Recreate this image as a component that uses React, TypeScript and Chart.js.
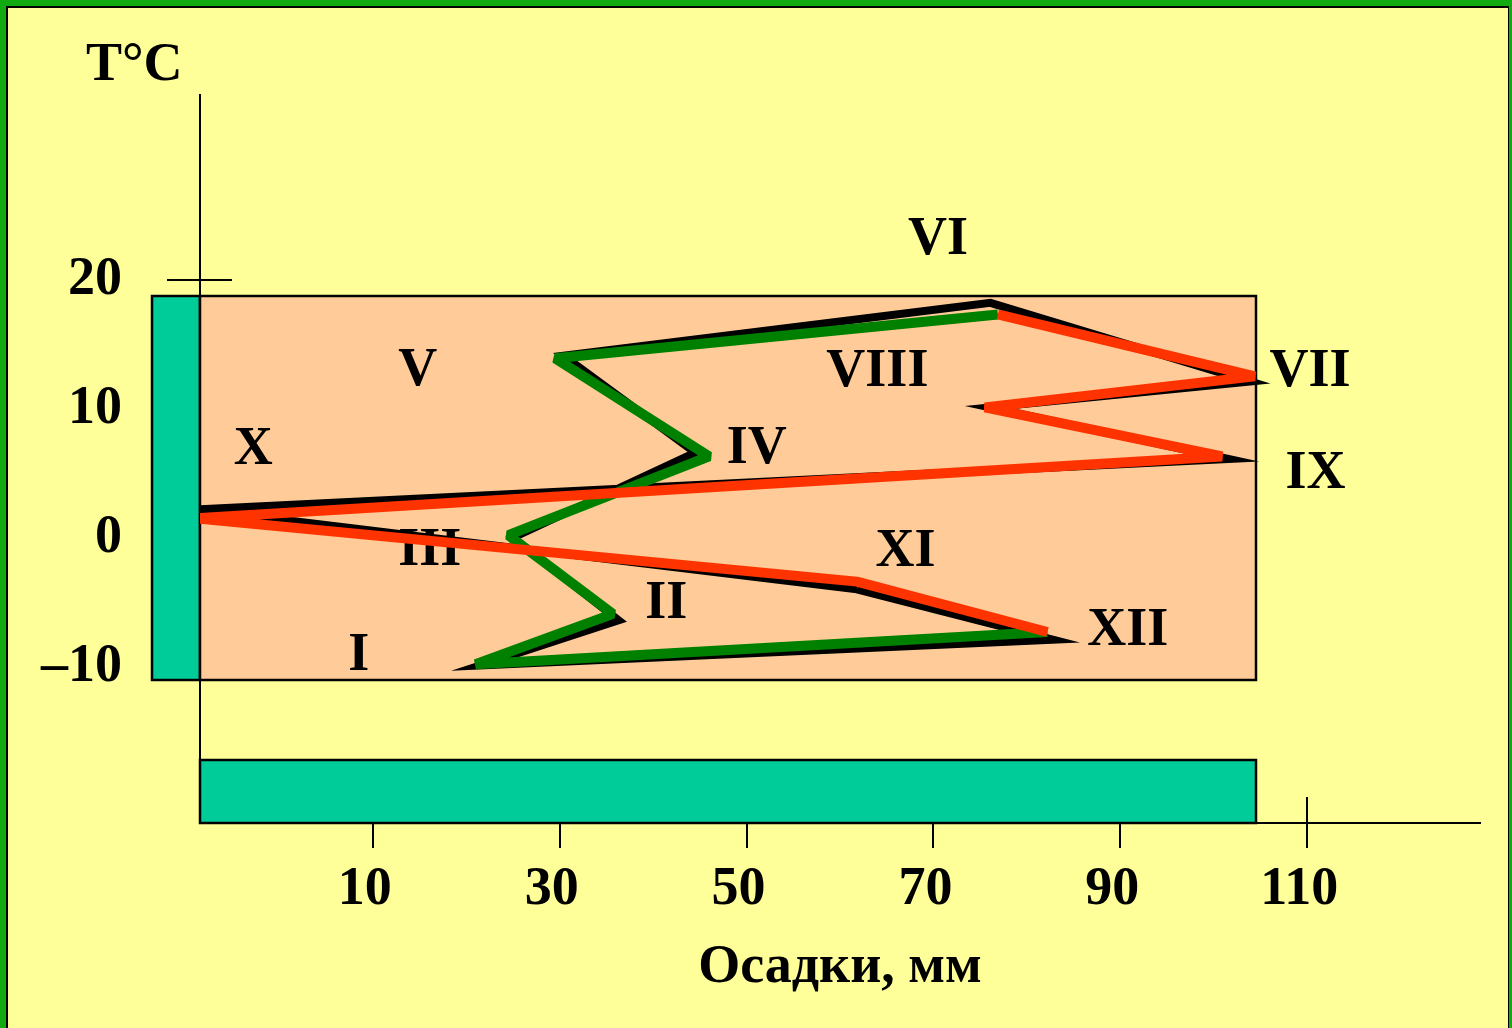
import { useEffect, useRef } from 'react';
import { Chart, registerables } from 'chart.js';

Chart.register(...registerables);

// Months (Roman numerals)
const MONTHS = ['I', 'II', 'III', 'IV', 'V', 'VI', 'VII', 'VIII', 'IX', 'X', 'XI', 'XII'];
// Coloured loop (green / red): precipitation, mm and temperature, °C
const PRECIP_A = [21.0, 35.7, 24.5, 46.0, 29.5, 76.9, 104.4, 75.5, 100.9, -9.0, 61.8, 82.2];
const TEMP_A = [-9.8, -5.9, 0.2, 6.3, 13.9, 17.3, 12.5, 10.1, 6.3, 1.5, -3.4, -7.3];
// Black loop
const PRECIP_B = [21.5, 36.3, 25.0, 44.5, 30.4, 76.1, 103.9, 76.1, 101.6, -8.8, 61.8, 82.8];
const TEMP_B = [-9.9, -6.4, 0.0, 6.6, 14.1, 18.2, 12.1, 10.1, 6.1, 2.2, -4.0, -7.9];
// Month label anchors (data units)
const LABEL_X = [8.5, 41.4, 16.1, 51.1, 14.8, 70.5, 110.3, 64.0, 110.9, -2.8, 67.0, 90.8];
const LABEL_Y = [-9.2, -5.1, -1.0, 6.9, 12.9, 23.1, 12.8, 12.8, 4.9, 6.8, -1.1, -7.2];

// Axes
const X_TICKS = [10, 30, 50, 70, 90, 110];
const Y_TICKS = [-10, 0, 10, 20];
const X_RANGE = [-8.5, 128.5];
const Y_RANGE = [-22.1, 34.3];
const X_TITLE = 'Осадки, мм';
const Y_TITLE = 'T°C';
// Zones [x0, x1, y0, y1] in data units
const ZONE = [-8.5, 104.5, -11.0, 18.7];
const TEMP_BAR = [-13.6, -8.5, -11.0, 18.7];
const PRECIP_BAR = [-8.5, 104.5, -22.1, -17.2];

const FONT = '"Liberation Serif", "Times New Roman", serif';
const GREEN = '#008000';
const RED = '#FF3300';
const TEAL = '#00CC99';
const SALMON = '#FFCC99';
const YELLOW = '#FFFF99';
const BORDER_GREEN = '#11AA11';

const decor = {
  id: 'decor',
  beforeDraw(chart: any) {
    const { ctx, width, height } = chart;
    ctx.save();
    ctx.fillStyle = YELLOW;
    ctx.fillRect(0, 0, width, height);
    ctx.fillStyle = BORDER_GREEN;
    ctx.fillRect(0, 0, width, 6);
    ctx.fillRect(0, 0, 6, height);
    ctx.fillRect(width - 3, 0, 3, height);
    ctx.fillStyle = '#000';
    ctx.fillRect(6, 6, width - 9, 2);
    ctx.fillRect(6, 6, 2, height - 6);
    ctx.fillRect(width - 4, 6, 1, height - 6);
    // y-axis title
    ctx.font = `bold 54px ${FONT}`;
    ctx.textAlign = 'left';
    ctx.textBaseline = 'middle';
    ctx.fillText(Y_TITLE, 86, 66);
    ctx.restore();
  },
  beforeDatasetsDraw(chart: any) {
    const { ctx } = chart;
    const x = chart.scales.x;
    const y = chart.scales.y;
    ctx.save();
    ctx.strokeStyle = '#000';
    ctx.lineWidth = 2;
    // upper / right halves of the cross ticks
    X_TICKS.forEach((v) => {
      const px = Math.round(x.getPixelForValue(v));
      ctx.beginPath();
      ctx.moveTo(px, y.bottom - 26);
      ctx.lineTo(px, y.bottom);
      ctx.stroke();
    });
    Y_TICKS.forEach((v) => {
      const py = Math.round(y.getPixelForValue(v));
      ctx.beginPath();
      ctx.moveTo(x.left, py);
      ctx.lineTo(x.left + 32, py);
      ctx.stroke();
    });
    const rect = (r: number[], fill: string) => {
      const x0 = Math.round(x.getPixelForValue(r[0]));
      const x1 = Math.round(x.getPixelForValue(r[1]));
      const y0 = Math.round(y.getPixelForValue(r[3]));
      const y1 = Math.round(y.getPixelForValue(r[2]));
      ctx.fillStyle = fill;
      ctx.fillRect(x0, y0, x1 - x0, y1 - y0);
      ctx.strokeRect(x0, y0, x1 - x0, y1 - y0);
    };
    ctx.lineWidth = 2.5;
    rect(PRECIP_BAR, TEAL);
    rect(TEMP_BAR, TEAL);
    rect(ZONE, SALMON);
    ctx.fillStyle = '#000';
    ctx.font = `bold 54px ${FONT}`;
    ctx.textAlign = 'center';
    ctx.textBaseline = 'middle';
    MONTHS.forEach((m, i) => {
      ctx.fillText(m, x.getPixelForValue(LABEL_X[i]), y.getPixelForValue(LABEL_Y[i]));
    });
    ctx.restore();
  },
};

export default function App() {
  const ref = useRef<HTMLCanvasElement | null>(null);

  useEffect(() => {
    if (!ref.current) return;
    const orderA = [11, 0, 1, 2, 3, 4, 5, 6, 7, 8, 9, 10, 11];
    const orderB = [10, 11, 0, 1, 2, 3, 4, 5, 6, 7, 8, 9, 10];
    const tickFont = { family: FONT, size: 54, weight: 'bold' as const };
    const chart = new Chart(ref.current, {
      type: 'line',
      data: {
        datasets: [
          {
            label: 'A',
            data: orderA.map((i) => ({ x: PRECIP_A[i], y: TEMP_A[i] })),
            borderColor: GREEN,
            borderWidth: 10,
            borderJoinStyle: 'bevel',
            borderCapStyle: 'butt',
            segment: {
              borderColor: (c: any) => (c.p0DataIndex < 6 ? GREEN : RED),
            },
            pointRadius: 0,
            tension: 0,
            fill: false,
            clip: 0,
          } as any,
          {
            label: 'B',
            data: orderB.map((i) => ({ x: PRECIP_B[i], y: TEMP_B[i] })),
            borderColor: '#000',
            borderWidth: 8,
            borderJoinStyle: 'miter',
            borderCapStyle: 'butt',
            pointRadius: 0,
            tension: 0,
            fill: false,
            clip: 0,
          } as any,
        ],
      },
      options: {
        responsive: false,
        devicePixelRatio: 1,
        animation: false,
        events: [],
        layout: { padding: { left: 0, right: 32, top: 95, bottom: 0 } },
        plugins: {
          legend: { display: false },
          tooltip: { enabled: false },
          title: { display: false },
        },
        scales: {
          x: {
            type: 'linear',
            position: 'bottom',
            min: X_RANGE[0],
            max: X_RANGE[1],
            afterBuildTicks: (s: any) => {
              s.ticks = X_TICKS.map((v) => ({ value: v }));
            },
            afterFit: (s: any) => {
              s.height = 205;
            },
            ticks: {
              color: '#000',
              font: tickFont,
              padding: 10,
              labelOffset: -8,
              maxRotation: 0,
              autoSkip: false,
              callback: (v: any) => String(v),
            },
            grid: {
              drawOnChartArea: false,
              drawTicks: true,
              tickLength: 25,
              tickWidth: 2,
              tickColor: '#000',
              color: '#000',
              lineWidth: 2,
            },
            border: { display: true, color: '#000', width: 2 },
            title: {
              display: true,
              text: X_TITLE,
              color: '#000',
              font: tickFont,
              padding: { top: 0, bottom: 28 },
            },
          },
          y: {
            type: 'linear',
            position: 'left',
            min: Y_RANGE[0],
            max: Y_RANGE[1],
            afterBuildTicks: (s: any) => {
              s.ticks = Y_TICKS.map((v) => ({ value: v }));
            },
            afterFit: (s: any) => {
              s.width = 200;
            },
            ticks: {
              color: '#000',
              font: tickFont,
              padding: 45,
              autoSkip: false,
              callback: (v: any) => (Number(v) < 0 ? '–' + Math.abs(Number(v)) : String(v)),
            },
            grid: {
              drawOnChartArea: false,
              drawTicks: true,
              tickLength: 33,
              tickWidth: 2,
              tickColor: '#000',
              color: '#000',
              lineWidth: 2,
            },
            border: { display: true, color: '#000', width: 2 },
          },
        },
      } as any,
      plugins: [decor],
    });
    return () => chart.destroy();
  }, []);

  return (
    <div style={{ position: 'fixed', left: 0, top: 0, width: 1512, height: 1028 }}>
      <canvas ref={ref} width={1512} height={1028} style={{ display: 'block' }} />
    </div>
  );
}
